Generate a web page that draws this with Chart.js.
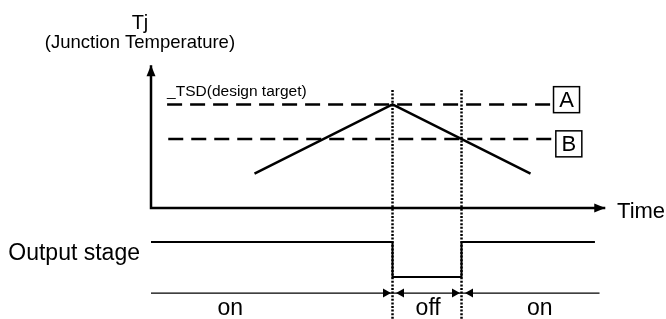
<!DOCTYPE html>
<html lang="en">
<head>
<meta charset="UTF-8">
<title>Junction temperature and thermal shutdown</title>
<script src="https://cdn.jsdelivr.net/npm/chart.js"></script>
<style>
  html, body { margin: 0; padding: 0; background: #fff; }
  #chart { display: block; }
</style>
</head>
<body>
<canvas id="chart" width="666" height="319"></canvas>
<script>
// Tj ramp (time units, temperature units)
const rampTimes = [4.5, 10.5, 16.5];
const rampTemps = [1, 3, 1];

// threshold levels A / B
const levelNames = ['A', 'B'];
const levelTemps = [3, 2];
const levelStart = [0.7, 0.75];
const levelEnd = [17.5, 17.6];

// output stage (1 = on, 0 = off)
const switchTimes = [10.5, 13.5];
const stageTimes = [0, 10.5, 10.5, 13.5, 13.5, 19.3];
const stageStates = [1, 1, 0, 0, 1, 1];
const phaseNames = ['on', 'off', 'on'];
const phaseTimes = [3.45, 12.05, 16.9];

const timeEnd = 19.75;
const tempTop = 4.14;
const FONT = '"Liberation Sans", Arial, sans-serif';

function pts(xs, ys) {
  return xs.map((x, i) => ({ x: x, y: ys[i] }));
}

function line(data, axis, width, dash) {
  return {
    data: data,
    yAxisID: axis,
    showLine: true,
    borderColor: '#000',
    borderWidth: width,
    borderDash: dash || [],
    pointRadius: 0,
    fill: false
  };
}

const datasets = [];
// axes
datasets.push(line(pts([0, 0, timeEnd], [tempTop, 0, 0]), 'yT', 2.5));
// dashed levels
levelTemps.forEach((t, i) => {
  datasets.push(line(pts([levelStart[i], levelEnd[i]], [t, t]), 'yT', 2.5, [15, 8]));
});
// Tj ramp
datasets.push(line(pts(rampTimes, rampTemps), 'yT', 2.5));
// output stage
datasets.push(line(pts(stageTimes, stageStates), 'yS', 2));
// on / off bar
datasets.push(line(pts([0, 19.5], [-0.46, -0.46]), 'yS', 1.3));
// switching moments (dotted)
switchTimes.forEach(s => {
  datasets.push(line(pts([s, s], [3.42, -3.3]), 'yT', 2.5, [2, 1.6]));
});

function arrow(ctx, x, y, dx, dy, len, half) {
  ctx.beginPath();
  ctx.moveTo(x, y);
  ctx.lineTo(x - dx * len - dy * half, y - dy * len + dx * half);
  ctx.lineTo(x - dx * len + dy * half, y - dy * len - dx * half);
  ctx.closePath();
  ctx.fill();
}

const labels = {
  id: 'labels',
  afterDatasetsDraw(chart) {
    const ctx = chart.ctx;
    const x = chart.scales.x, yT = chart.scales.yT, yS = chart.scales.yS;
    ctx.save();
    ctx.fillStyle = '#000';
    ctx.strokeStyle = '#000';

    // axis arrows
    arrow(ctx, x.getPixelForValue(0), yT.getPixelForValue(tempTop), 0, -1, 11, 4.5);
    arrow(ctx, x.getPixelForValue(timeEnd), yT.getPixelForValue(0), 1, 0, 11, 4.5);

    // on/off bar arrows
    const by = yS.getPixelForValue(-0.46);
    switchTimes.forEach(s => {
      const px = x.getPixelForValue(s);
      arrow(ctx, px - 1.5, by, 1, 0, 8, 4.5);
      arrow(ctx, px + 3.5, by, -1, 0, 8, 4.5);
    });

    // axis titles
    ctx.textAlign = 'center';
    ctx.textBaseline = 'alphabetic';
    ctx.font = '20px ' + FONT;
    ctx.fillText('Tj', x.getPixelForValue(-0.48), yT.getPixelForValue(5.18));
    ctx.font = '18.5px ' + FONT;
    ctx.fillText('(Junction Temperature)', x.getPixelForValue(-0.48), yT.getPixelForValue(4.63));

    ctx.textAlign = 'left';
    ctx.font = '22px ' + FONT;
    ctx.fillText('Time', x.getPixelForValue(20.26), yT.getPixelForValue(-0.28));

    ctx.font = '15.5px ' + FONT;
    ctx.fillText('_TSD(design target)', x.getPixelForValue(0.7), yT.getPixelForValue(3.26));

    // level boxes
    ctx.font = '22px ' + FONT;
    ctx.textAlign = 'center';
    ctx.textBaseline = 'middle';
    ctx.lineWidth = 1.5;
    const boxY = [3.14, 1.86];
    levelNames.forEach((n, i) => {
      const left = x.getPixelForValue(levelEnd[i]);
      const cy = yT.getPixelForValue(boxY[i]);
      ctx.strokeRect(left, cy - 13, 26, 26);
      ctx.fillText(n, left + 13, cy + 1);
    });

    // output stage
    ctx.textBaseline = 'alphabetic';
    ctx.textAlign = 'right';
    ctx.font = '23px ' + FONT;
    ctx.fillText('Output stage', x.getPixelForValue(-0.48), yS.getPixelForValue(0.49));

    ctx.textAlign = 'center';
    phaseNames.forEach((n, i) => {
      ctx.fillText(n, x.getPixelForValue(phaseTimes[i]), yS.getPixelForValue(-1.086));
    });
    ctx.restore();
  }
};

new Chart(document.getElementById('chart'), {
  type: 'scatter',
  data: { datasets: datasets },
  options: {
    responsive: false,
    animation: false,
    devicePixelRatio: 1,
    events: [],
    layout: { padding: 0 },
    elements: { line: { tension: 0 } },
    plugins: { legend: { display: false }, tooltip: { enabled: false } },
    scales: {
      x: { type: 'linear', display: false, min: -6.565, max: 22.39 },
      yT: { type: 'linear', display: false, min: -3.217, max: 6.029 },
      yS: { type: 'linear', display: false, min: -1.2, max: 7.914 }
    }
  },
  plugins: [labels]
});
</script>
</body>
</html>
